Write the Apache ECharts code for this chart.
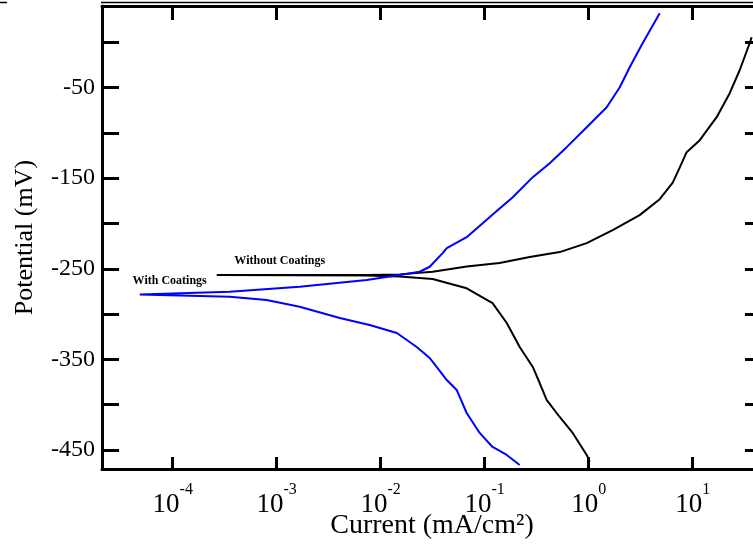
<!DOCTYPE html>
<html>
<head>
<meta charset="utf-8">
<script src="https://cdn.jsdelivr.net/npm/echarts@6/dist/echarts.min.js"></script>
<style>
  html, body { margin: 0; padding: 0; background: #fff; }
  #chart { width: 753px; height: 545px; }
</style>
</head>
<body>
<div id="chart"></div>
<script>
// with coatings: cathodic branch (bottom -> Ecorr) then anodic branch
const blueCurrent = [
  0.217, 0.163, 0.119, 0.0895, 0.0671, 0.0575, 0.0538, 0.0432, 0.0345, 0.0296,
  0.0222, 0.0143, 0.00783, 0.00404, 0.00166, 0.0008, 0.000353, 0.0000482,
  0.000353, 0.00166, 0.00733, 0.0152, 0.0237, 0.0296, 0.0394, 0.0432, 0.0671,
  0.112, 0.186, 0.290, 0.422, 0.614, 0.957, 1.49, 1.99, 2.48, 3.30, 4.82
]
const bluePotential = [
  -466.5, -455.5, -446.7, -431.2, -409.2, -391.5, -383.8, -372.8, -358.4, -348.5,
  -336.4, -320.9, -312.1, -304.4, -291.9, -284.5, -280.9, -278.3,
  -275.4, -269.9, -262.5, -257.0, -253.3, -247.8, -232.7, -227.2, -215.1,
  -193.0, -171.0, -148.9, -133.5, -115.8, -93.8, -71.7, -49.6, -27.6, -1.1, 32
]

// without coatings
const blackCurrent = [
  1.023, 0.957, 0.702, 0.526, 0.394, 0.338, 0.290, 0.217, 0.163, 0.119,
  0.0671, 0.0316, 0.0152, 0.00733, 0.000265,
  0.00733, 0.0152, 0.0316, 0.0671, 0.139, 0.271, 0.526, 0.957, 1.70, 3.09,
  4.82, 6.43, 7.50, 8.75, 11.7, 17.0, 22.7, 28.3, 35.3, 36.9
]
const blackPotential = [
  -463.2, -455.5, -431.2, -413.6, -394.8, -376.1, -358.4, -336.4, -309.9, -287.9,
  -271.6, -261.4, -258.6, -257.5, -257.0,
  -257.0, -256.2, -253.3, -247.6, -243.7, -237.1, -231.6, -221.7, -207.3, -190.8,
  -173.2, -155.0, -138.4, -121.3, -108.1, -82.7, -56.2, -30.9, -1.1, 5.5
]

const xTickValues = [1e-4, 1e-3, 1e-2, 1e-1, 1, 10]
const yTickValues = [0, -50, -100, -150, -200, -250, -300, -350, -400, -450]
const yLabelValues = [-50, -150, -250, -350, -450]

const serif = 'Liberation Serif'
const xMin = Math.pow(10, -4.68)
const xMax = Math.pow(10, 1.58)
const yMin = -471
const yMax = 40

const zip = (xs, ys) => xs.map((x, i) => [x, ys[i]])

const chart = echarts.init(document.getElementById('chart'))

const tagLabel = (text) => ({
  show: true,
  position: 'inside',
  formatter: text,
  color: '#000',
  fontFamily: serif,
  fontWeight: 'bold',
  fontSize: 12
})

const option = {
  animation: false,
  backgroundColor: '#fff',
  grid: { left: 102, right: 0, top: 6, bottom: 76, containLabel: false, outerBoundsMode: 'none' },
  xAxis: [
    {
      type: 'log',
      logBase: 10,
      min: xMin,
      max: xMax,
      name: 'Current (mA/cm²)',
      nameLocation: 'middle',
      nameGap: 43,
      nameMoveOverlap: false,
      nameTextStyle: { fontFamily: serif, fontSize: 28, color: '#000', padding: [0, 0, 0, 9] },
      axisLine: { show: true, onZero: false, lineStyle: { color: '#000', width: 3 } },
      axisTick: { show: true, inside: true, length: 12, customValues: xTickValues, lineStyle: { color: '#000', width: 3 } },
      axisLabel: {
        show: true,
        margin: 13,
        customValues: xTickValues,
        formatter: (v) => '{b|10}{s|' + Math.round(Math.log10(v)) + '}',
        rich: {
          b: { fontFamily: serif, fontSize: 27, lineHeight: 36, verticalAlign: 'bottom', color: '#000' },
          s: { fontFamily: serif, fontSize: 16, lineHeight: 16, verticalAlign: 'top', color: '#000' }
        }
      },
      splitLine: { show: false }
    },
    {
      type: 'log',
      logBase: 10,
      position: 'top',
      min: xMin,
      max: xMax,
      axisLine: { show: true, onZero: false, lineStyle: { color: '#000', width: 3 } },
      axisTick: { show: true, inside: true, length: 14, customValues: xTickValues, lineStyle: { color: '#000', width: 3 } },
      axisLabel: { show: false },
      splitLine: { show: false }
    }
  ],
  yAxis: [
    {
      type: 'value',
      min: yMin,
      max: yMax,
      name: 'Potential (mV)',
      nameLocation: 'middle',
      nameGap: 64,
      nameMoveOverlap: false,
      nameTextStyle: { fontFamily: serif, fontSize: 26, color: '#000' },
      axisLine: { show: true, onZero: false, lineStyle: { color: '#000', width: 3 } },
      axisTick: { show: true, inside: true, length: 17, customValues: yTickValues, lineStyle: { color: '#000', width: 3 } },
      axisLabel: { show: true, margin: 7, customValues: yLabelValues, fontFamily: serif, fontSize: 24, color: '#000' },
      splitLine: { show: false }
    },
    {
      type: 'value',
      position: 'right',
      min: yMin,
      max: yMax,
      axisLine: { show: false, onZero: false },
      axisTick: { show: true, inside: true, length: 8, customValues: yTickValues, lineStyle: { color: '#000', width: 3 } },
      axisLabel: { show: false },
      splitLine: { show: false }
    }
  ],
  series: [
    {
      name: 'Without Coatings',
      type: 'line',
      data: zip(blackCurrent, blackPotential),
      showSymbol: false,
      lineStyle: { color: '#000', width: 2 },
      markPoint: {
        symbol: 'rect',
        symbolSize: [1, 1],
        itemStyle: { color: 'rgba(0,0,0,0)' },
        label: tagLabel('Without Coatings'),
        data: [{ coord: [1.07e-3, -241.7] }]
      }
    },
    {
      name: 'With Coatings',
      type: 'line',
      data: zip(blueCurrent, bluePotential),
      showSymbol: false,
      lineStyle: { color: '#0000ff', width: 2 },
      markPoint: {
        symbol: 'rect',
        symbolSize: [1, 1],
        itemStyle: { color: 'rgba(0,0,0,0)' },
        label: tagLabel('With Coatings'),
        data: [{ coord: [9.35e-5, -263.5] }]
      }
    }
  ],
  graphic: [
    { type: 'line', shape: { x1: 101, y1: 2.5, x2: 753, y2: 2.5 }, style: { stroke: '#000', lineWidth: 1.5 } },
    { type: 'line', shape: { x1: 0, y1: 2.5, x2: 7, y2: 2.5 }, style: { stroke: '#000', lineWidth: 1.5 } }
  ]
}

chart.setOption(option)
</script>
</body>
</html>
